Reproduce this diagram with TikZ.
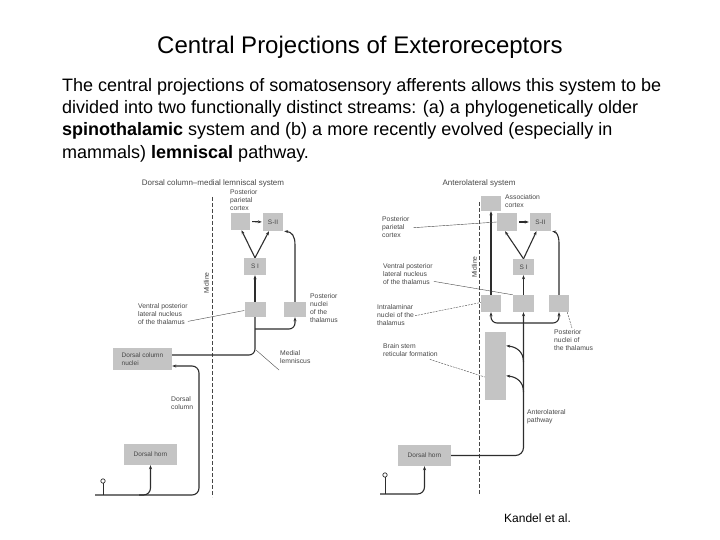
\documentclass[tikz,border=0pt]{standalone}
\usepackage{fontspec}
\setmainfont{Liberation Sans}
\usetikzlibrary{arrows.meta,calc,backgrounds}
\definecolor{boxgray}{RGB}{196,196,196}
\definecolor{ink}{RGB}{70,70,70}
\definecolor{lineink}{RGB}{45,45,45}
\begin{document}
\begin{tikzpicture}[x=1pt,y=-1pt,
  box/.style={draw=none,fill=boxgray,inner sep=0pt,font=\fontsize{6.5}{7.5}\selectfont,text=ink},
  lab/.style={font=\fontsize{6.8}{8}\selectfont,text=ink,align=left,inner sep=0pt,anchor=north west},
  conn/.style={draw=lineink,line width=1.1pt},
  arr/.style={conn,-{Stealth[length=4pt,width=3pt]}},
  lead/.style={draw=ink,line width=0.4pt},
  leadd/.style={lead,dash pattern=on 2pt off 1pt},
  midl/.style={draw=ink,line width=0.5pt,dash pattern=on 4pt off 2pt}]
\useasboundingbox (0,0) rectangle (720,540);

% ---------- title and text ----------
\node[font=\fontsize{24}{28}\selectfont] (title) at (360,47) {Central Projections of Exteroreceptors};
\node[anchor=north west,align=left,inner sep=0pt,font=\fontsize{18}{22.3}\selectfont] (body) at (62,78)
 {The central projections of somatosensory afferents allows this system to be\\
  divided into two functionally distinct streams: (a) a phylogenetically older\\
  \textbf{spinothalamic} system and (b) a more recently evolved (especially in\\
  mammals) \textbf{lemniscal} pathway.};
\node[anchor=west,inner sep=0pt,font=\fontsize{12}{14}\selectfont] (cite) at (504,518) {Kandel et al.};

% ---------- left diagram ----------
\node[font=\fontsize{8}{9}\selectfont,text=ink] (titleL) at (213,183) {Dorsal column--medial lemniscal system};
\node[box,minimum width=19,minimum height=17] (ppcL) at (240.5,221.5) {};
\node[box,minimum width=20,minimum height=18] (s2L) at (273,222) {S-II};
\node[box,minimum width=22,minimum height=17] (s1L) at (255,266.5) {S I};
\node[box,minimum width=21,minimum height=15] (vplL) at (255,309.5) {};
\node[box,minimum width=22,minimum height=15] (poL) at (295,309.5) {};
\node[box,minimum width=59,minimum height=22,align=left] (dcnL) at (142.5,359) {Dorsal column\\nuclei};
\node[box,minimum width=53,minimum height=21] (dhL) at (150.5,454.5) {Dorsal horn};

\node[lab] (ppcLt) at (230,189) {Posterior\\parietal\\cortex};
\node[lab] (poLt) at (310,293) {Posterior\\nuclei\\of the\\thalamus};
\node[lab] (vplLt) at (138,303) {Ventral posterior\\lateral nucleus\\of the thalamus};
\node[lab] (mlLt) at (280,350) {Medial\\lemniscus};
\node[lab] (dcLt) at (171,396) {Dorsal\\column};
\node[lab,anchor=center,rotate=90] (midLt) at (206.5,283) {Midline};

\coordinate (midLa) at (212,197);
\coordinate (midLb) at (212,497);
\coordinate (brL) at (255,329);
\coordinate (startL) at (95,495);
\coordinate (recL) at (103,495);
\coordinate (recLc) at (103,481);

% ---------- right diagram ----------
\node[font=\fontsize{8}{9}\selectfont,text=ink] (titleR) at (479,183) {Anterolateral system};
\node[box,minimum width=20,minimum height=15] (acR) at (491,203.5) {};
\node[box,minimum width=20,minimum height=18] (ppcR) at (507,222) {};
\node[box,minimum width=21,minimum height=18] (s2R) at (540.5,222) {S-II};
\node[box,minimum width=21,minimum height=16] (s1R) at (523.5,267) {S I};
\node[box,minimum width=20,minimum height=17] (ilR) at (491,303.5) {};
\node[box,minimum width=21,minimum height=17] (vplR) at (523.5,303.5) {};
\node[box,minimum width=20,minimum height=17] (poR) at (559,303.5) {};
\node[box,minimum width=21,minimum height=68] (bsR) at (495.5,366) {};
\node[box,minimum width=53,minimum height=21] (dhR) at (424.5,455.5) {Dorsal horn};

\node[lab] (acRt) at (505,194) {Association\\cortex};
\node[lab] (ppcRt) at (382,216) {Posterior\\parietal\\cortex};
\node[lab] (vplRt) at (383,263) {Ventral posterior\\lateral nucleus\\of the thalamus};
\node[lab] (ilRt) at (377,304) {Intralaminar\\nuclei of the\\thalamus};
\node[lab] (bsRt) at (383,343) {Brain stem\\reticular formation};
\node[lab] (poRt) at (554,329) {Posterior\\nuclei of\\the thalamus};
\node[lab] (alRt) at (527,409) {Anterolateral\\pathway};
\node[lab,anchor=center,rotate=90] (midRt) at (474.5,267) {Midline};

\coordinate (midRa) at (479,202);
\coordinate (midRb) at (479,495);
\coordinate (brR) at (523.5,323);
\coordinate (bs1) at (523.5,362);
\coordinate (bs2) at (523.5,392);
\coordinate (startR) at (380,494);
\coordinate (recR) at (385,494);
\coordinate (recRc) at (385,475);

\begin{pgfonlayer}{background}
% left connectors
\draw[midl] (midLa) -- (midLb);
\draw[arr,shorten <=2pt,shorten >=1pt] (ppcL.east) -- (s2L.west);
\draw[arr] (s1L.north) -- ($(ppcL.south)+(1,0)$);
\draw[arr] (s1L.north) -- ($(s2L.south)+(-4,0)$);
\draw[conn,rounded corners=6] ($(dcnL.east)+(0,-4)$) -| (vplL.south);
\draw[arr] (vplL.north) -- (s1L.south);
\draw[arr,rounded corners=6] (brL) -| (poL.south);
\draw[arr] (poL.north) -- (295,245) .. controls (295,236) and (292,232) .. ($(s2L.south east)+(1,0)$);
\draw[arr,rounded corners=7] (startL) -| (199,366) -- ($(dcnL.east)+(0,7)$);
\draw[arr,rounded corners=7] (139,495) -| (dhL.south);
\draw[lineink,line width=0.7pt] (recL) -- ($(recLc)+(0,2.2)$);
\draw[lineink,line width=0.7pt] (recLc) circle (2.2pt);
\draw[lead] ($(vplLt.south east)+(0,-3)$) -- ($(vplL.west)+(0,1)$);
\draw[lead] (256,350) -- ($(mlLt.north west)+(-1,20)$);

% right connectors
\draw[midl] (midRa) -- (midRb);
\draw[arr] (ilR.north) -- (acR.south);
\draw[arr,shorten <=2pt,shorten >=1pt] (ppcR.east) -- (s2R.west);
\draw[arr] (s1R.north) -- ($(ppcR.south)+(-2,0)$);
\draw[arr] (s1R.north) -- ($(s2R.south)+(-4,0)$);
\draw[arr] (vplR.north) -- (s1R.south);
\draw[arr] (poR.north) -- (559,243) .. controls (559,235) and (556,232) .. ($(s2R.south east)+(1,0)$);
\draw[arr,rounded corners=8] (dhR.east) -| (vplR.south);
\draw[arr,rounded corners=6] (brR) -| (ilR.south);
\draw[arr,rounded corners=6] (brR) -| (poR.south);
\draw[arr] (bs1) .. controls (523.5,352) and (517,347) .. ($(bsR.north east)+(0,14)$);
\draw[arr] (bs2) .. controls (523.5,382) and (517,377) .. ($(bsR.north east)+(0,44)$);
\draw[arr,rounded corners=7] (startR) -| (dhR.south);
\draw[lineink,line width=0.7pt] (recR) -- ($(recRc)+(0,2.2)$);
\draw[lineink,line width=0.7pt] (recRc) circle (2.2pt);
\draw[lead] ($(ppcRt.east)+(4,1)$) -- (ppcR.west);
\draw[lead] ($(vplRt.south east)+(1,-3)$) -- (vplR.north west);
\draw[leadd] ($(ilRt.east)+(1,1)$) -- ($(ilR.west)+(0,-1)$);
\draw[leadd] ($(bsRt.south east)+(-8,3)$) -- ($(bsR.west)+(0,11)$);
\draw[leadd] ($(poR.south east)+(-2,0)$) -- ($(poRt.north west)+(18,-1)$);
\end{pgfonlayer}
\end{tikzpicture}
\end{document}
